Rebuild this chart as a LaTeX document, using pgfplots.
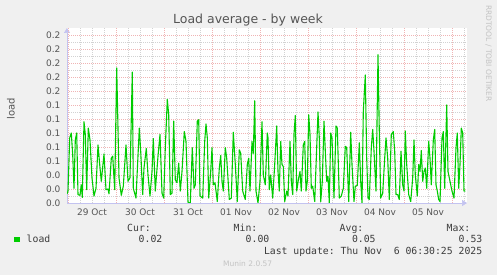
\documentclass[border=0pt]{standalone}
\usepackage{pgfplots}
\pgfplotsset{compat=1.18}
\usepackage{fontspec}
\setmainfont{DejaVu Sans}
\setmonofont{DejaVu Sans Mono}
\usetikzlibrary{arrows.meta}
\definecolor{bg}{RGB}{240,240,240}
\definecolor{axcol}{RGB}{195,195,240}
\definecolor{majgrid}{RGB}{240,180,180}
\definecolor{mingrid}{RGB}{210,210,210}
\definecolor{loadgreen}{RGB}{0,204,0}
\definecolor{txt}{RGB}{85,85,85}
\definecolor{legtxt}{RGB}{60,60,60}
\definecolor{faint}{RGB}{195,195,195}
\begin{document}
\begin{tikzpicture}[x=1pt,y=1pt]
\fill[bg] (0,0) rectangle (497,275);
\useasboundingbox (0,0) rectangle (497,275);
\begin{axis}[
  at={(67pt,72pt)}, anchor=south west,
  scale only axis, width=400pt, height=175pt,
  xmin=-0.5, xmax=199.5, ymin=0, ymax=0.25,
  axis lines=left,
  axis line style={draw=axcol, line width=0.6pt, -{Triangle[length=5pt,width=6pt]}},
  axis background/.style={fill=white},
  xtick={12,36,60,84,108,132,156,180},
  xticklabels={29 Oct,30 Oct,31 Oct,01 Nov,02 Nov,03 Nov,04 Nov,05 Nov},
  minor xtick={0,6,...,198},
  xmajorgrids=false, xminorgrids=true,
  extra x ticks={0,24,48,72,96,120,144,168,192},
  extra x tick labels={},
  extra x tick style={grid=major},
  ytick={0,0.02,0.04,0.06,0.08,0.10,0.12,0.14,0.16,0.18,0.20,0.22,0.24},
  yticklabels={0.0,0.0,0.0,0.1,0.1,0.1,0.1,0.1,0.2,0.2,0.2,0.2,0.2},
  minor ytick={0.01,0.03,0.05,0.07,0.09,0.11,0.13,0.15,0.17,0.19,0.21,0.23},
  ymajorgrids=true, yminorgrids=true,
  major grid style={draw=majgrid, line width=0.6pt, dash pattern=on 1pt off 1pt},
  minor grid style={draw=mingrid, line width=0.6pt, dash pattern=on 1pt off 1pt},
  major tick length=0pt, minor tick length=0pt,
  tick label style={font=\fontsize{9}{10}\selectfont, text=txt},
  yticklabel style={xshift=-3pt},
  xticklabel style={yshift=-2pt},
  /pgf/number format/assume math mode=true,
  clip=true,
]
\addplot[draw=loadgreen, line width=1.1pt, line join=round] coordinates {
(-0.5,0.013) (0,0.017) (0.85,0.093) (1.65,0.1) (2.35,0.069) (3,0.021) (3.65,0.09) (4.35,0.1) (5,0.012) (6,0.011) (6.65,0.026) (7.15,0.008) (8,0.116) (8.65,0.098) (9.35,0.019) (10.15,0.107) (11,0.09) (12,0.036) (13,0.01) (14,0.021) (15,0.083) (15.85,0.055) (16.65,0.031) (18,0.07) (19,0.019) (20,0.02) (20.5,0.013) (21.65,0.064) (22.35,0.067) (23.35,0.019) (24.35,0.193) (24.9,0.12) (25.5,0.036) (26.65,0.011) (27.65,0.024) (29,0.083) (30,0.031) (31,0.036) (32.15,0.187) (32.65,0.021) (34,0.007) (35.65,0.107) (36.35,0.074) (37.35,0.012) (38,0.05) (39.15,0.078) (40,0.04) (41,0.01) (42,0.045) (42.65,0.092) (43.65,0.017) (45,0.067) (46,0.098) (47,0.014) (47.85,0.007) (48.65,0.079) (49.65,0.148) (50.35,0.126) (51.15,0.012) (52,0.014) (52.85,0.117) (53.65,0.033) (54.5,0.029) (55.35,0.057) (56.15,0.017) (57,0.045) (58.15,0.102) (59,0.088) (60,0.001) (61.15,0.0) (62.15,0.079) (63,0.021) (63.65,0.026) (64.65,0.117) (65.35,0.119) (66,0.01) (67.35,0.007) (68.35,0.088) (69,0.113) (69.65,0.093) (70.35,0.007) (71.35,0.045) (72,0.079) (72.65,0.026) (73.5,0.029) (74.65,0.002) (75.65,0.05) (76.35,0.068) (77,0.031) (77.65,0.017) (78.65,0.079) (79.35,0.064) (80.65,0.005) (81.65,0.007) (82.65,0.101) (83.65,0.055) (84.65,0.002) (85.65,0.076) (86.35,0.071) (87.35,0.017) (88.65,0.005) (89.65,0.055) (90.35,0.064) (91,0.017) (92,0.088) (92.65,0.071) (93.35,0.146) (94,0.017) (95,0.0) (96,0.031) (97,0.116) (97.65,0.04) (98.65,0.026) (99.65,0.1) (100,0.093) (100.65,0.019) (101.35,0.04) (102.35,0.007) (103.35,0.055) (104.35,0.11) (105,0.045) (105.65,0.017) (106.35,0.088) (107,0.055) (107.65,0.052) (108.35,0.002) (109.35,0.017) (110,0.01) (111,0.088) (111.65,0.031) (112.35,0.012) (113,0.098) (113.65,0.125) (114.35,0.017) (115.35,0.036) (116,0.045) (116.65,0.017) (117.65,0.083) (118.35,0.088) (119,0.017) (119.65,0.031) (120.35,0.126) (121,0.098) (121.65,0.021) (122.35,0.024) (123.35,0.002) (124.15,0.064) (125,0.13) (125.65,0.093) (126.35,0.002) (127.15,0.031) (128,0.117) (128.65,0.074) (129.35,0.031) (130,0.038) (130.65,0.0) (131.35,0.1) (132,0.093) (133,0.007) (134,0.11) (134.65,0.107) (135.65,0.007) (136.65,0.01) (137.65,0.021) (138.65,0.081) (139.35,0.079) (140.35,0.002) (141.35,0.101) (142,0.055) (143,0.002) (143.65,0.024) (144.65,0.025) (145.65,0.086) (146.35,0.031) (147,0.0) (147.65,0.131) (148.65,0.183) (149.35,0.064) (150,0.007) (150.65,0.005) (151.65,0.079) (152.35,0.105) (153,0.074) (154,0.017) (155,0.212) (155.65,0.102) (156.35,0.007) (157.35,0.014) (158.35,0.064) (159,0.093) (159.85,0.064) (160.65,0.005) (161.65,0.098) (162.65,0.102) (163.35,0.074) (164,0.012) (164.85,0.012) (165.65,0.005) (166.5,0.074) (167.35,0.026) (168,0.017) (168.65,0.103) (169.35,0.055) (170.35,0.012) (171.35,0.002) (172.35,0.036) (173,0.09) (173.65,0.04) (174.65,0.01) (175.35,0.055) (176,0.045) (176.65,0.075) (177.35,0.031) (178,0.045) (178.65,0.05) (179.35,0.021) (180.35,0.088) (181,0.064) (181.65,0.026) (182.65,0.09) (183.35,0.105) (184,0.026) (184.65,0.017) (185.35,0.005) (186,0.002) (187,0.093) (187.65,0.102) (188.35,0.021) (189.35,0.14) (190,0.045) (191,0.031) (192,0.017) (193,0.007) (194,0.079) (194.65,0.1) (195.35,0.021) (196,0.055) (196.65,0.107) (197.35,0.1) (198,0.017) (198.65,0.017)
};
\end{axis}
% title and side texts
\node[anchor=base, inner sep=0, text=txt, font=\fontsize{12.5}{14}\selectfont] at (248,251) {Load average - by week};
\node[rotate=90, inner sep=0, text=txt, font=\fontsize{10}{12}\selectfont] at (11,166) {load};
\node[rotate=-90, inner sep=0, text=faint, font=\fontsize{7.5}{9}\selectfont] at (488.5,221.5) {RRDTOOL / TOBI OETIKER};
% legend
\fill[loadgreen] (14,32.5) rectangle (19.5,38);
\begin{scope}[every node/.style={inner sep=0, text=legtxt, font=\ttfamily\fontsize{9.8}{11}\selectfont}]
\node[anchor=base west] at (26.5,32) {load};
\node[anchor=base] at (139,43.2) {Cur:};
\node[anchor=base] at (245.5,43.2) {Min:};
\node[anchor=base] at (351.5,43.2) {Avg:};
\node[anchor=base] at (458.5,43.2) {Max:};
\node[anchor=base east] at (162.5,32) {0.02};
\node[anchor=base east] at (269.5,32) {0.00};
\node[anchor=base east] at (375.8,32) {0.05};
\node[anchor=base east] at (482.5,32) {0.53};
\node[anchor=base east] at (482.5,20.8) {Last update: Thu Nov\ \ 6 06:30:25 2025};
\end{scope}
\node[inner sep=0, text=faint, font=\fontsize{7.5}{9}\selectfont] at (247.7,11) {Munin 2.0.57};
\end{tikzpicture}
\end{document}
